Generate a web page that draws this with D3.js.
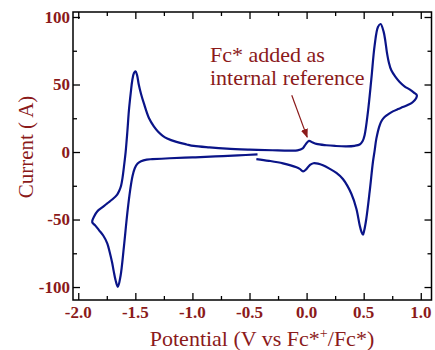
<!DOCTYPE html>
<html>
<head>
<meta charset="utf-8">
<script src="https://cdn.jsdelivr.net/npm/d3@7"></script>
<style>
  body { margin: 0; background: #fff; }
  text { font-family: "Liberation Serif", "Times New Roman", serif; }
</style>
</head>
<body>
<svg id="chart" width="435" height="350"></svg>
<script>
// cyclic voltammogram (V, current)
const potential = [
  -0.43, -0.60, -0.80, -1.00, -1.20, -1.35, -1.40, -1.45, -1.48, -1.505,
  -1.525, -1.545, -1.57, -1.60, -1.63, -1.653, -1.673, -1.69, -1.703, -1.725,
  -1.746, -1.78, -1.819, -1.85, -1.878,
  -1.86, -1.834, -1.79, -1.746, -1.70, -1.659, -1.64, -1.625, -1.612, -1.60,
  -1.585, -1.57, -1.556, -1.54, -1.527, -1.512, -1.498, -1.485, -1.47, -1.45,
  -1.425, -1.38, -1.338, -1.30, -1.26, -1.221, -1.14, -1.05, -0.988, -0.85,
  -0.70, -0.50, -0.30, -0.15, -0.08, -0.034, -0.01, 0.021, 0.05, 0.086,
  0.173, 0.25, 0.348, 0.42, 0.465, 0.49, 0.508, 0.537, 0.567, 0.596,
  0.625, 0.648, 0.675, 0.69, 0.703, 0.72, 0.742, 0.78, 0.815, 0.86,
  0.902, 0.94, 0.966,
  0.931, 0.89, 0.843, 0.80, 0.756, 0.72, 0.683, 0.66, 0.640, 0.611,
  0.596, 0.581, 0.552, 0.523, 0.505, 0.494, 0.48, 0.465, 0.436, 0.392,
  0.318, 0.261, 0.20, 0.143, 0.10, 0.06, 0.03, 0.0, -0.031, -0.06,
  -0.089, -0.207, -0.33, -0.44
];
const current = [
  -1.8, -2.5, -3.3, -4.0, -4.6, -5.3, -5.6, -6.8, -8.5, -12,
  -18, -28, -45, -70, -92, -99.8, -95, -88, -82, -74,
  -67.6, -62, -57.8, -54.5, -51.8,
  -47.5, -44, -41, -38, -35, -31.5, -28.5, -25, -19, -11,
  0, 15, 31, 44, 53, 58.5, 59.8, 57, 50, 43,
  36, 25, 19, 15, 12, 10, 7.5, 5.6, 4.5, 3.4,
  2.5, 1.8, 1.3, 1.0, 1.2, 2.7, 5.5, 8.3, 7.2, 6.0,
  5.0, 4.5, 4.2, 4.6, 5.6, 8, 12.5, 29.6, 54, 79,
  92.6, 94.8, 89, 82, 74, 66.5, 60.5, 55.5, 51.9, 48.5,
  46.4, 44, 42,
  37, 35, 33.3, 31.8, 30.1, 28.3, 25.9, 23.5, 19.8, 9.9,
  1, -7.4, -29.6, -49.4, -58, -61.2, -59, -54.3, -42, -30.9,
  -20, -15.5, -12.3, -9.8, -8.6, -8.3, -9.5, -12.5, -14.3, -12.5,
  -11.3, -8.4, -6.5, -5.2
];

const xTicks = [-2.0, -1.5, -1.0, -0.5, 0.0, 0.5, 1.0];
const xMinor = [-1.75, -1.25, -0.75, -0.25, 0.25, 0.75];
const yTicks = [-100, -50, 0, 50, 100];
const yMinor = [-75, -25, 25, 75];

const noteLines = ['Fc* added as', 'internal reference'];
const arrowFrom = [-0.13, 42];
const arrowTo = [0.005, 11];

const red = '#8b1a1a';
const navy = '#0a1488';

const box = {left: 73, right: 431.5, top: 12, bottom: 300};

const x = d3.scaleLinear().domain([-2.046, 1.094]).range([box.left, box.right]);
const y = d3.scaleLinear().domain([-109.6, 103.7]).range([box.bottom, box.top]);

const svg = d3.select('#chart');

svg.append('defs')
    .append('marker')
    .attr('id', 'head')
    .attr('viewBox', '0 0 10 10')
    .attr('refX', 9)
    .attr('refY', 5)
    .attr('markerWidth', 9)
    .attr('markerHeight', 9)
    .attr('markerUnits', 'userSpaceOnUse')
    .attr('orient', 'auto')
    .append('path')
    .attr('d', 'M0,1 L10,5 L0,9 Z')
    .attr('fill', red);

// the curve
const pts = potential.map((p, i) => [p, current[i]]);
svg.append('path')
    .datum(pts)
    .attr('d', d3.line().x(d => x(d[0])).y(d => y(d[1])).curve(d3.curveCatmullRom.alpha(0.5)))
    .attr('fill', 'none')
    .attr('stroke', navy)
    .attr('stroke-width', 2.2)
    .attr('stroke-linejoin', 'round');

// ticks pointing inward on all four sides
const sides = [
    [() => d3.axisBottom(x), xTicks, xMinor, `translate(0,${box.bottom})`],
    [() => d3.axisTop(x), xTicks, xMinor, `translate(0,${box.top})`],
    [() => d3.axisLeft(y), yTicks, yMinor, `translate(${box.left},0)`],
    [() => d3.axisRight(y), yTicks, yMinor, `translate(${box.right},0)`]
];
sides.forEach(([make, major, minor, tr]) => {
    [[major, 7], [minor, 4]].forEach(([vals, size]) => {
        const g = svg.append('g').attr('transform', tr);
        g.call(make().tickValues(vals).tickSizeInner(-size).tickSizeOuter(0).tickFormat(''));
        g.select('.domain').remove();
        g.selectAll('line').attr('stroke', '#000').attr('stroke-width', 1.3);
    });
});

// the frame
svg.append('rect')
    .attr('x', box.left).attr('y', box.top)
    .attr('width', box.right - box.left).attr('height', box.bottom - box.top)
    .attr('fill', 'none').attr('stroke', '#000').attr('stroke-width', 1.5);

// tick labels
svg.append('g').selectAll('text')
    .data(xTicks).enter().append('text')
    .attr('x', d => x(d)).attr('y', 318)
    .attr('text-anchor', 'middle')
    .attr('font-size', 17).attr('font-weight', 'bold').attr('fill', red)
    .text(d => d.toFixed(1));

svg.append('g').selectAll('text')
    .data(yTicks).enter().append('text')
    .attr('x', box.left - 3).attr('y', d => y(d)).attr('dy', '0.35em')
    .attr('text-anchor', 'end')
    .attr('font-size', 17).attr('font-weight', 'bold').attr('fill', red)
    .text(d => String(d));

// axis titles
const xl = svg.append('text')
    .attr('x', 262).attr('y', 346)
    .attr('text-anchor', 'middle')
    .attr('font-size', 22).attr('fill', red);
xl.append('tspan').text('Potential (V vs Fc*');
xl.append('tspan').attr('dy', -8).attr('font-size', 14).text('+');
xl.append('tspan').attr('dy', 8).text('/Fc*)');

svg.append('text')
    .attr('transform', 'translate(33,147) rotate(-90)')
    .attr('text-anchor', 'middle')
    .attr('font-size', 21).attr('fill', red)
    .text('Current ( A)');

// annotation
svg.append('g').selectAll('text')
    .data(noteLines).enter().append('text')
    .attr('x', 210).attr('y', (d, i) => 61.5 + i * 23.5)
    .attr('font-size', 22).attr('fill', red)
    .text(d => d);

svg.append('line')
    .attr('x1', x(arrowFrom[0])).attr('y1', y(arrowFrom[1]))
    .attr('x2', x(arrowTo[0])).attr('y2', y(arrowTo[1]))
    .attr('stroke', red).attr('stroke-width', 1.2)
    .attr('marker-end', 'url(#head)');
</script>
</body>
</html>
